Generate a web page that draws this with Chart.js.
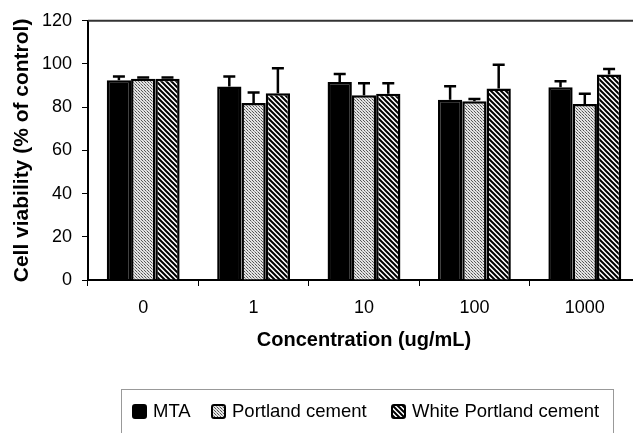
<!DOCTYPE html>
<html>
<head>
<meta charset="utf-8">
<script src="https://cdn.jsdelivr.net/npm/chart.js@4.4.1/dist/chart.umd.min.js"></script>
<style>
body{margin:0;overflow:hidden;background:#fff;width:633px;height:433px;position:relative;font-family:"Liberation Sans",Arial,sans-serif;}
#c{position:absolute;left:0;top:0;}
#legend{position:absolute;left:121px;top:389px;width:491px;height:60px;border:1px solid #999;border-bottom:none;}
.item{position:absolute;top:11px;font-size:18.5px;line-height:20px;color:#000;white-space:nowrap;}
.item canvas{position:absolute;left:0;top:3px;}
.item span{position:absolute;top:0;}
</style>
</head>
<body>
<canvas id="c" width="645" height="433"></canvas>
<div id="legend"></div>
<script>
// data
var concentrations = ['0', '1', '10', '100', '1000'];
var seriesNames = ['MTA', 'Portland cement', 'White Portland cement'];
var mta = [92.5, 89.6, 91.7, 83.4, 89.2];
var mtaErr = [1.7, 4.6, 3.7, 6.3, 2.8];
var portland = [93.2, 81.9, 85.5, 82.8, 81.5];
var portlandErr = [0.6, 4.9, 5.6, 1.0, 4.7];
var white = [93.2, 86.5, 86.2, 88.6, 95.1];
var whiteErr = [0.6, 11.5, 4.9, 11.1, 2.6];
var yTicks = [0, 20, 40, 60, 80, 100, 120];

var FONT = '"Liberation Sans", Arial, sans-serif';
Chart.defaults.color = '#000';
Chart.defaults.font.family = FONT;

function dotPattern(){
    var p = document.createElement('canvas');
    p.width = 3; p.height = 3;
    var g = p.getContext('2d');
    g.fillStyle = '#e4e4e4';
    g.fillRect(0,0,3,3);
    g.fillStyle = '#555';
    g.fillRect(0,0,1,1);
    g.fillRect(1,1,1,1);
    g.fillStyle = '#999';
    g.fillRect(2,2,1,1);
    return g.createPattern(p,'repeat');
}
function stripePattern(){
    var p = document.createElement('canvas');
    p.width = 5; p.height = 5;
    var g = p.getContext('2d');
    g.fillStyle = '#fff';
    g.fillRect(0,0,5,5);
    g.strokeStyle = '#000';
    g.lineWidth = 2;
    g.beginPath();
    g.moveTo(-1,-1); g.lineTo(6,6);
    g.moveTo(-1,4); g.lineTo(1,6);
    g.moveTo(4,-1); g.lineTo(6,1);
    g.stroke();
    return g.createPattern(p,'repeat');
}

var ctx = document.getElementById('c').getContext('2d');
var fills = ['#000', dotPattern(), stripePattern()];
var errs = [mtaErr, portlandErr, whiteErr];

var errorBars = {
    id: 'errorBars',
    afterDatasetsDraw: function(chart){
        var c = chart.ctx, y = chart.scales.y;
        c.save();
        c.strokeStyle = '#000';
        c.lineWidth = 2.5;
        chart.data.datasets.forEach(function(ds, di){
            var meta = chart.getDatasetMeta(di);
            meta.data.forEach(function(bar, i){
                var top = y.getPixelForValue(ds.data[i] + errs[di][i]);
                c.beginPath();
                c.moveTo(bar.x, bar.y);
                c.lineTo(bar.x, top);
                c.moveTo(bar.x - 6, top);
                c.lineTo(bar.x + 6, top);
                c.stroke();
            });
        });
        c.restore();
    }
};

var frame = {
    id: 'frame',
    afterDraw: function(chart){
        var a = chart.chartArea, c = chart.ctx;
        c.save();
        c.strokeStyle = '#333';
        c.lineWidth = 2;
        c.beginPath();
        c.moveTo(a.left, a.top);
        c.lineTo(a.right, a.top);
        c.lineTo(a.right, a.bottom);
        c.stroke();
        c.restore();
    }
};

var chart = new Chart(ctx, {
    type: 'bar',
    data: {
        labels: concentrations,
        datasets: [
            {label: seriesNames[0], data: mta, backgroundColor: fills[0]},
            {label: seriesNames[1], data: portland, backgroundColor: fills[1]},
            {label: seriesNames[2], data: white, backgroundColor: fills[2]}
        ]
    },
    options: {
        responsive: false,
        animation: false,
        layout: {padding: {left: 7, top: 19, right: 5, bottom: 77}},
        datasets: {
            bar: {
                borderColor: '#000',
                borderWidth: 2.5,
                categoryPercentage: 0.66,
                barPercentage: 1.0
            }
        },
        plugins: {
            legend: {display: false},
            tooltip: {enabled: false}
        },
        scales: {
            x: {
                afterFit: function(s){ s.height = 76; },
                grid: {display: true, drawOnChartArea: false, tickLength: 6, color: '#000', offset: true},
                border: {display: true, color: '#000', width: 2},
                ticks: {font: {size: 18, family: FONT}, padding: 11, color: '#000'},
                title: {display: true, text: 'Concentration (ug/mL)', color: '#000',
                        font: {size: 20, weight: 'bold', family: FONT}, padding: {top: 4, bottom: 4}}
            },
            y: {
                min: 0,
                max: 120,
                afterFit: function(s){ s.width = 81; },
                afterBuildTicks: function(s){ s.ticks = yTicks.map(function(v){ return {value: v}; }); },
                grid: {display: true, drawOnChartArea: false, tickLength: 6, color: '#000'},
                border: {display: true, color: '#000', width: 2},
                ticks: {font: {size: 18, family: FONT}, padding: 10, color: '#000'},
                title: {display: true, text: 'Cell viability (% of control)', color: '#000',
                        font: {size: 21, weight: 'bold', family: FONT}, padding: {top: 3, bottom: 4}}
            }
        }
    },
    plugins: [errorBars, frame]
});

// legend drawn as html so the box matches the figure
var legendLefts = [10, 89, 269];
var legend = document.getElementById('legend');
seriesNames.forEach(function(name, i){
    var item = document.createElement('div');
    item.className = 'item';
    item.style.left = legendLefts[i] + 'px';
    var sw = document.createElement('canvas');
    sw.width = 15; sw.height = 15;
    var g = sw.getContext('2d');
    g.fillStyle = fills[i];
    g.beginPath();
    g.roundRect(1, 1, 13, 13, 2);
    g.fill();
    g.lineWidth = 2;
    g.strokeStyle = '#000';
    g.stroke();
    var t = document.createElement('span');
    t.style.left = '21px';
    t.textContent = name;
    item.appendChild(sw);
    item.appendChild(t);
    legend.appendChild(item);
});
</script>
</body>
</html>
